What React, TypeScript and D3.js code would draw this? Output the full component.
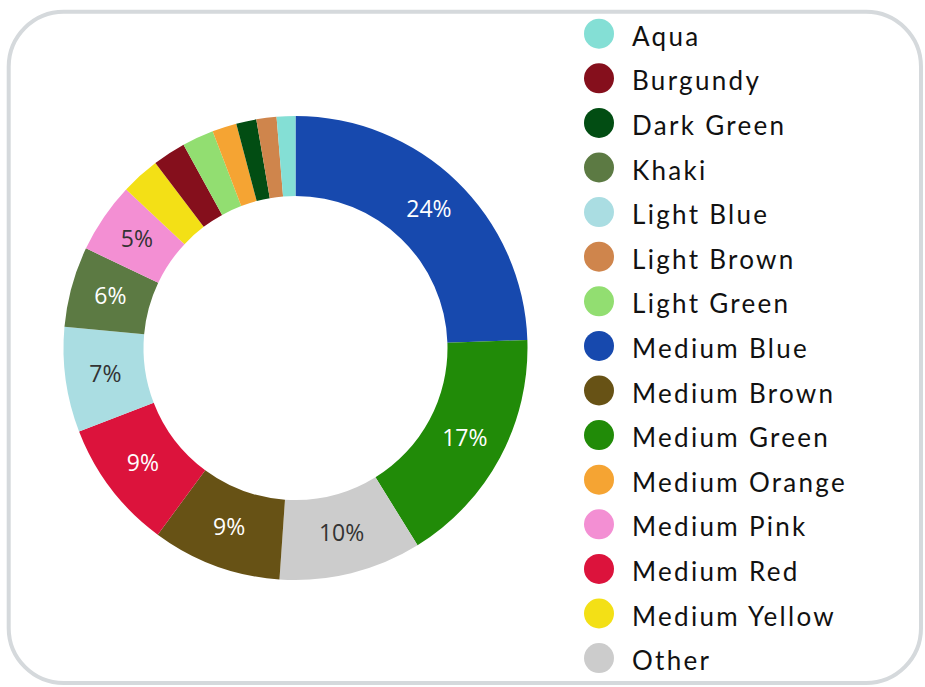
import React, { useEffect, useRef } from "react";
import * as d3 from "d3";

const sliceNames = [
  "Medium Blue", "Medium Green", "Other", "Medium Brown", "Medium Red",
  "Light Blue", "Khaki", "Medium Pink", "Medium Yellow", "Burgundy",
  "Light Green", "Medium Orange", "Dark Green", "Light Brown", "Aqua",
];
const sliceValues = [24.4, 16.7, 9.9, 9.0, 9.0, 7.3, 5.6, 4.9, 2.7, 2.3, 2.2, 1.7, 1.4, 1.4, 1.3];

const legendNames = [
  "Aqua", "Burgundy", "Dark Green", "Khaki", "Light Blue", "Light Brown",
  "Light Green", "Medium Blue", "Medium Brown", "Medium Green", "Medium Orange",
  "Medium Pink", "Medium Red", "Medium Yellow", "Other",
];

const colorMap: Record<string, string> = {
  "Aqua": "#84dfd5",
  "Burgundy": "#850f1c",
  "Dark Green": "#024d13",
  "Khaki": "#5c7a43",
  "Light Blue": "#aadde2",
  "Light Brown": "#cf854c",
  "Light Green": "#92de71",
  "Medium Blue": "#1749ae",
  "Medium Brown": "#675215",
  "Medium Green": "#218b08",
  "Medium Orange": "#f5a433",
  "Medium Pink": "#f38fd3",
  "Medium Red": "#dc133c",
  "Medium Yellow": "#f3e016",
  "Other": "#cccccc",
};

const darkLabelSlices = ["Other", "Light Blue", "Medium Pink"];

export default function App() {
  const ref = useRef<SVGSVGElement>(null);

  useEffect(() => {
    const svg = d3.select(ref.current);
    svg.selectAll("*").remove();

    svg.append("rect")
      .attr("x", 8.7).attr("y", 11.7)
      .attr("width", 921 - 8.7).attr("height", 683 - 11.7)
      .attr("rx", 55).attr("ry", 55)
      .attr("fill", "#fff")
      .attr("stroke", "#d5d9dc")
      .attr("stroke-width", 4);

    const cx = 295.5, cy = 348, outer = 232, inner = 152;
    const data = sliceNames.map((n, i) => ({ name: n, value: sliceValues[i] }));
    const total = d3.sum(sliceValues);
    const pie = d3.pie<any>().sort(null).value((d: any) => d.value);
    const arc = d3.arc<any>().innerRadius(inner).outerRadius(outer);
    const arcs = pie(data);

    const g = svg.append("g").attr("transform", `translate(${cx},${cy})`);
    g.selectAll("path").data(arcs).enter().append("path")
      .attr("d", arc as any)
      .attr("fill", (d: any) => colorMap[d.data.name]);

    const fmt = d3.format(".0%");
    g.selectAll("text").data(arcs.filter((d: any) => d.data.value / total >= 0.045))
      .enter().append("text")
      .attr("transform", (d: any) => `translate(${arc.centroid(d)})`)
      .attr("y", -2)
      .attr("text-anchor", "middle")
      .attr("dominant-baseline", "central")
      .attr("font-family", "'Open Sans', sans-serif")
      .attr("font-size", 23)
      .attr("fill", (d: any) => darkLabelSlices.includes(d.data.name) ? "#333333" : "#ffffff")
      .text((d: any) => fmt(d.data.value / total));

    const y = d3.scaleBand().domain(legendNames).range([11.4, 680.4]);
    const lg = svg.append("g");
    const rows = lg.selectAll("g").data(legendNames).enter().append("g")
      .attr("transform", (d) => `translate(599,${(y(d) as number) + y.bandwidth() / 2})`);
    rows.append("circle").attr("r", 15).attr("fill", (d) => colorMap[d]);
    rows.append("text")
      .attr("x", 33).attr("y", 12)
      .attr("font-family", "Lato, sans-serif")
      .attr("font-size", 26)
      .attr("letter-spacing", 2.3)
      .attr("fill", "#111")
      .text((d) => d);
  }, []);

  return (
    <svg ref={ref} width={925} height={687}
      style={{ position: "absolute", left: 0, top: 0, display: "block" }} />
  );
}
